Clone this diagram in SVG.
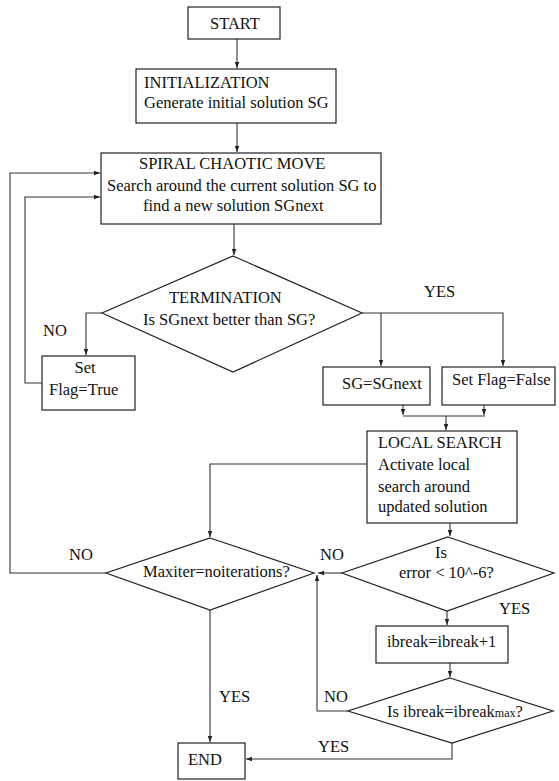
<svg xmlns="http://www.w3.org/2000/svg" width="559" height="781" viewBox="0 0 559 781">
<style>
.b{fill:#fff;stroke:#222;stroke-width:1.2}
.c{fill:none;stroke:#333;stroke-width:1.1}
text{font-family:"Liberation Serif","Times New Roman",serif;font-size:16.5px;fill:#111}
.s{font-size:12px}
</style>
<defs>
<marker id="a" viewBox="0 0 8 6" refX="8" refY="3" markerWidth="6" markerHeight="5" orient="auto" markerUnits="userSpaceOnUse">
<path d="M0,0 L8,3 L0,6 z" fill="#222"/>
</marker>
</defs>
<rect width="559" height="781" fill="#fff"/>
<g id="connectors" class="c" marker-end="url(#a)">
<path d="M237,39 V68"/>
<path d="M237,123 V152"/>
<path d="M234,224 V255"/>
<path d="M102,313 H86 V355"/>
<path d="M42,383 H25 V197 H100"/>
<path d="M106,573 H10 V173 H100"/>
<path d="M362,313 H503 V366"/>
<path d="M381,313 V366"/>
<path d="M403,405 V415"/>
<path d="M484,405 V415"/>
<path d="M403,416 H485" marker-end="none"/>
<path d="M446,416 V430"/>
<path d="M367,464 H210 V537"/>
<path d="M450,523 V536"/>
<path d="M342,573 H318"/>
<path d="M447,611 V625"/>
<path d="M450,663 V677"/>
<path d="M348,711 H317 V575"/>
<path d="M452,743 V759 H246"/>
<path d="M210,610 V742"/>
</g>
<g id="start"><rect class="b" x="188" y="7" width="92" height="32"/><text x="210" y="29">START</text></g>
<g id="init"><rect class="b" x="136" y="69" width="200" height="54"/><text x="144" y="88">INITIALIZATION</text><text x="144" y="108">Generate initial solution SG</text></g>
<g id="spiral"><rect class="b" x="101" y="153" width="280" height="71"/><text x="139" y="169">SPIRAL CHAOTIC MOVE</text><text x="107" y="191">Search around the current solution SG to</text><text x="143" y="211">find a new solution SGnext</text></g>
<g id="termination"><polygon class="b" points="233,256 362,313 233,372 102,313"/><text x="169" y="303">TERMINATION</text><text x="143" y="325">Is SGnext better than SG?</text></g>
<g id="flagtrue"><rect class="b" x="42" y="356" width="93" height="54"/><text x="85" y="373" text-anchor="middle">Set</text><text x="49" y="395">Flag=True</text></g>
<g id="sgnext"><rect class="b" x="323" y="367" width="107" height="38"/><text x="342" y="389">SG=SGnext</text></g>
<g id="flagfalse"><rect class="b" x="442" y="367" width="113" height="38"/><text x="452" y="385">Set Flag=False</text></g>
<g id="localsearch"><rect class="b" x="367" y="431" width="150" height="92"/><text x="378" y="448">LOCAL SEARCH</text><text x="378" y="470">Activate local</text><text x="378" y="492">search around</text><text x="378" y="512">updated solution</text></g>
<g id="maxiter"><polygon class="b" points="210,538 314,573 210,610 106,573"/><text x="143" y="577">Maxiter=noiterations?</text></g>
<g id="error"><polygon class="b" points="448,537 554,573 447,611 342,573"/><text x="435" y="558">Is</text><text x="399" y="578">error &lt; 10^-6?</text></g>
<g id="ibreak"><rect class="b" x="376" y="626" width="132" height="37"/><text x="387" y="647">ibreak=ibreak+1</text></g>
<g id="ibreakmax"><polygon class="b" points="450,678 553,711 452,743 348,711"/><text x="387" y="717">Is ibreak=ibreak<tspan class="s">max</tspan>?</text></g>
<g id="end"><rect class="b" x="178" y="743" width="67" height="36"/><text x="188" y="765">END</text></g>
<g id="labels">
<text x="43" y="336">NO</text>
<text x="424" y="297">YES</text>
<text x="69" y="560">NO</text>
<text x="320" y="560">NO</text>
<text x="499" y="614">YES</text>
<text x="324" y="702">NO</text>
<text x="219" y="702">YES</text>
<text x="318" y="752">YES</text>
</g>
</svg>
